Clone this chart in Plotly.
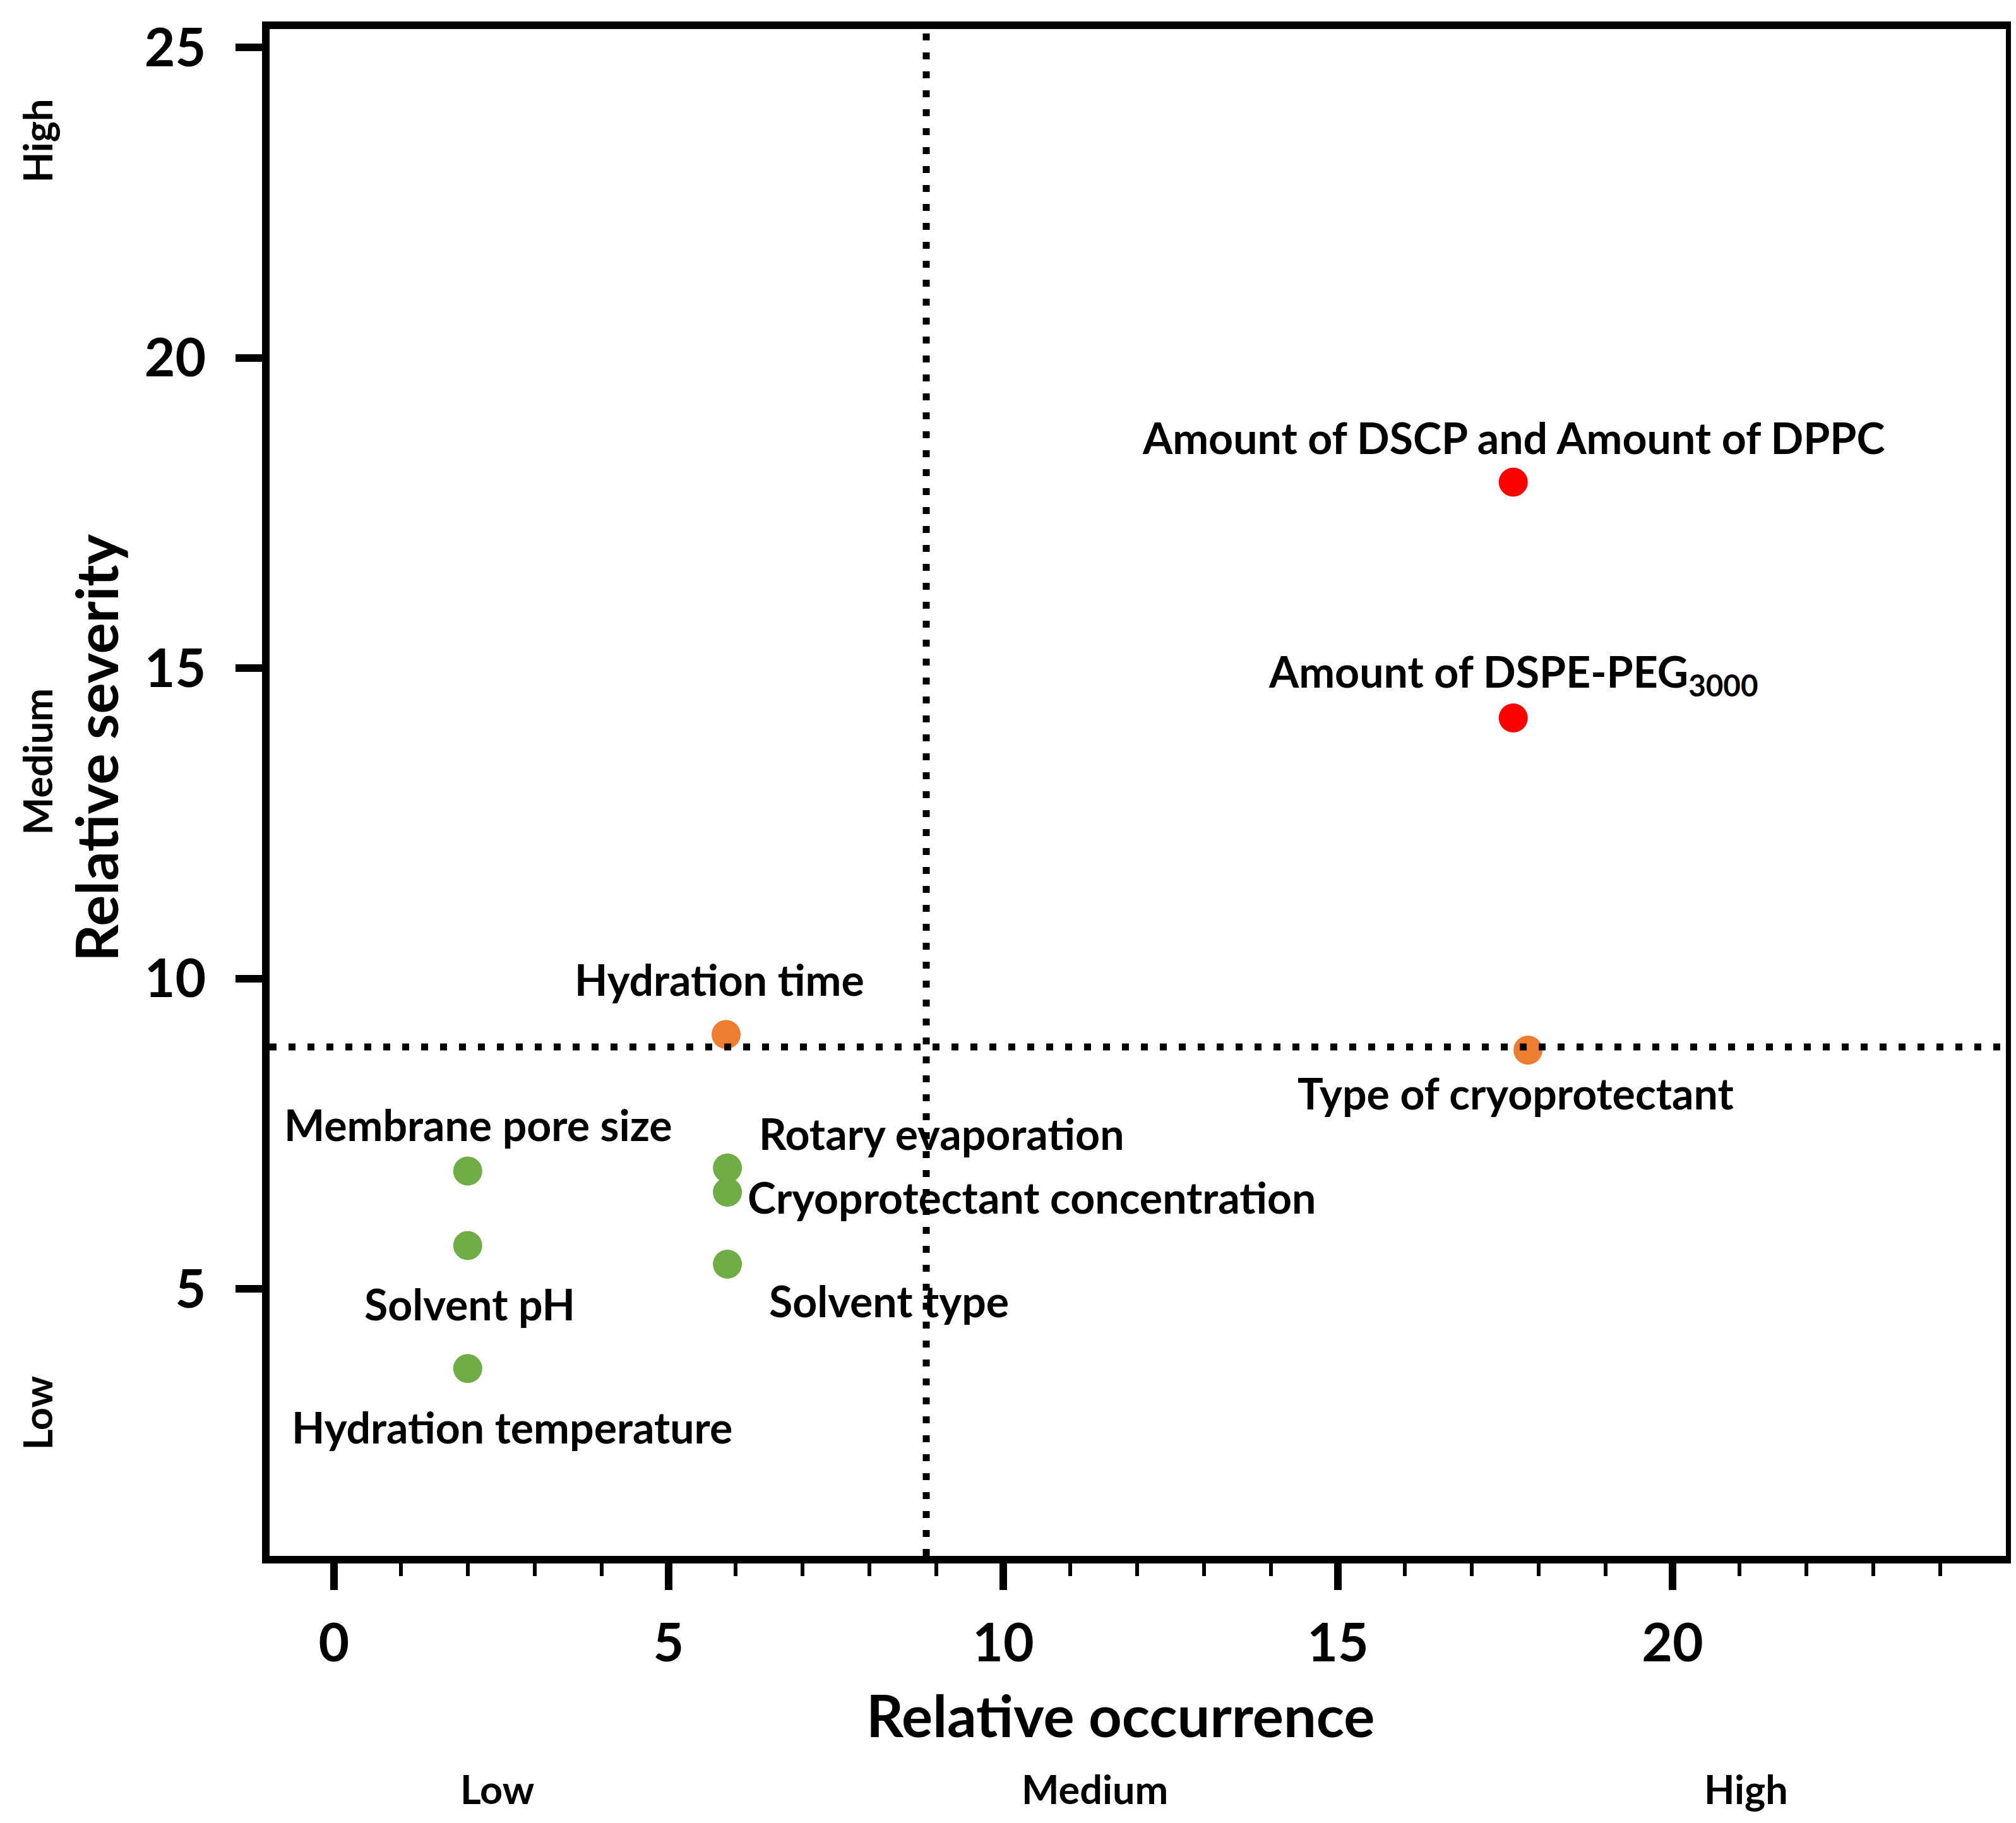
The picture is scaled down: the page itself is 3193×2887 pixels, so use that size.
import plotly.graph_objects as go

# risk assessment data
factors = [
    "Amount of DSCP and Amount of DPPC",
    "Amount of DSPE-PEG<sub>3000</sub>",
    "Hydration time",
    "Type of cryoprotectant",
    "Membrane pore size",
    "Solvent pH",
    "Hydration temperature",
    "Rotary evaporation",
    "Cryoprotectant concentration",
    "Solvent type",
]
occurrence = [17.62, 17.62, 5.86, 17.84, 2.0, 2.0, 2.0, 5.88, 5.88, 5.88]
severity = [18.0, 14.2, 9.1, 8.85, 6.9, 5.7, 3.72, 6.95, 6.56, 5.4]
risk = ["high", "high", "medium", "medium", "low", "low", "low", "low", "low", "low"]

occurrence_cut = 8.85
severity_cut = 8.9

levels = ["Low", "Medium", "High"]

risk_colors = {"high": "#FF0000", "medium": "#ED7D31", "low": "#70AD47"}

# label offsets from the marker, in pixels: (xshift, yshift, xanchor)
label_offsets = [
    (0, 71, "center"),
    (0, 70, "center"),
    (-11, 88, "center"),
    (-20, -68, "center"),
    (17, 74, "center"),
    (3, -92, "center"),
    (70, -92, "center"),
    (48, 55, "left"),
    (30, -7, "left"),
    (64, -57, "left"),
]

FONT = "Lato"

fig = go.Figure()

for level in ["low", "medium", "high"]:
    idx = [i for i, r in enumerate(risk) if r == level]
    fig.add_trace(go.Scatter(
        x=[occurrence[i] for i in idx],
        y=[severity[i] for i in idx],
        mode="markers",
        marker=dict(size=46, color=risk_colors[level], line=dict(width=0)),
        showlegend=False,
    ))

for name, x, y, (dx, dy, anchor) in zip(factors, occurrence, severity, label_offsets):
    fig.add_annotation(
        x=x, y=y, xref="x", yref="y", text="<b>" + name + "</b>",
        showarrow=False, xshift=dx, yshift=dy, xanchor=anchor, yanchor="middle",
        font=dict(family=FONT, size=68, color="black"),
    )

# threshold lines
fig.add_shape(type="line", xref="x", yref="paper", x0=occurrence_cut, x1=occurrence_cut,
              y0=0, y1=1, layer="above",
              line=dict(color="black", width=11, dash="11px,19px"))
fig.add_shape(type="line", xref="paper", yref="y", x0=0, x1=1,
              y0=severity_cut, y1=severity_cut, layer="above",
              line=dict(color="black", width=11, dash="11px,19px"))

# axis titles
fig.add_annotation(text="<b>Relative occurrence</b>", xref="paper", yref="paper",
                   x=0.49, y=-0.104, showarrow=False, xanchor="center", yanchor="middle",
                   font=dict(family=FONT, size=92, color="black"))
fig.add_annotation(text="<b>Relative severity</b>", xref="paper", yref="paper",
                   x=-0.1, y=0.529, showarrow=False, textangle=-90,
                   xanchor="center", yanchor="middle",
                   font=dict(family=FONT, size=92, color="black"))

# qualitative level labels
for lab, xpos in zip(levels, [2.44, 11.37, 21.1]):
    fig.add_annotation(text="<b>" + lab + "</b>", xref="x", yref="paper",
                       x=xpos, y=-0.1525, showarrow=False, yanchor="middle",
                       font=dict(family=FONT, size=63, color="black"))
for lab, ypos in zip(levels, [3.0, 13.5, 23.5]):
    fig.add_annotation(text="<b>" + lab + "</b>", xref="paper", yref="y",
                       x=-0.1337, y=ypos, showarrow=False, textangle=-90,
                       xanchor="center", yanchor="middle",
                       font=dict(family=FONT, size=63, color="black"))

fig.update_xaxes(
    range=[-0.96, 24.98], tick0=0, dtick=5,
    showline=True, linecolor="black", linewidth=12, mirror=True,
    ticks="outside", ticklen=42, tickwidth=12, tickcolor="black",
    ticklabelstandoff=12,
    minor=dict(dtick=1, ticks="outside", ticklen=20, tickwidth=6, tickcolor="black", showgrid=False),
    showgrid=False, zeroline=False,
    tickfont=dict(family=FONT, size=84, color="black", weight="bold"),
)
fig.update_yaxes(
    range=[0.7, 25.3], tick0=0, dtick=5,
    showline=True, linecolor="black", linewidth=12, mirror=True,
    ticks="outside", ticklen=42, tickwidth=12, tickcolor="black",
    ticklabelstandoff=30,
    showgrid=False, zeroline=False,
    tickfont=dict(family=FONT, size=84, color="black", weight="bold"),
)

fig.update_layout(
    width=3193, height=2887,
    margin=dict(l=419, r=22, t=38, b=431),
    plot_bgcolor="white", paper_bgcolor="white",
    showlegend=False,
)

fig.write_html("out.html")
